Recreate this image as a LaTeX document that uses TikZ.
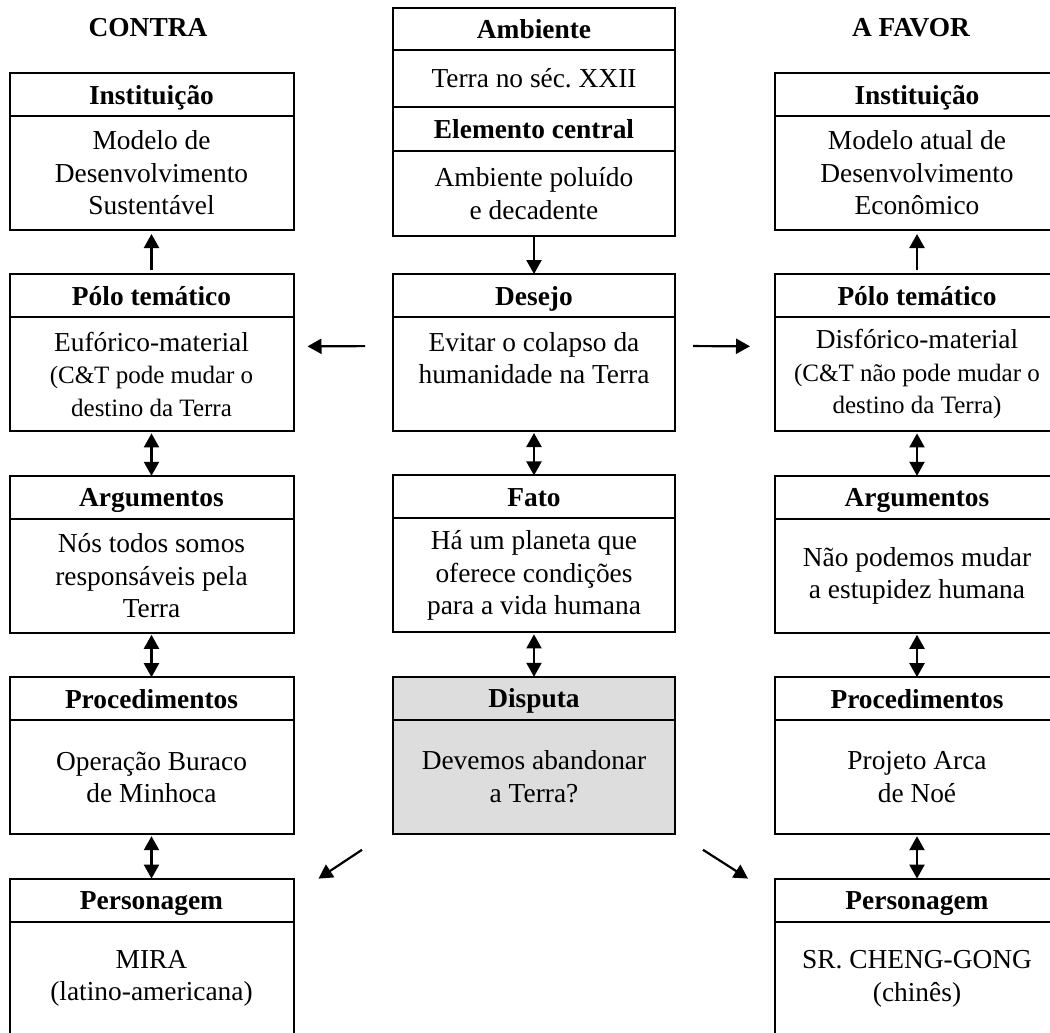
\documentclass[tikz,border=0pt]{standalone}
\usepackage{fontspec}
\setmainfont{Liberation Serif}
\frenchspacing
\usetikzlibrary{arrows.meta,positioning}
\definecolor{DisputaGray}{HTML}{DDDDDD}
\newcommand{\notasize}{\fontsize{12.5}{16.25}\selectfont}

\begin{document}
\begin{tikzpicture}[node distance=22.2pt, every node/.style={font=\fontsize{13.7}{16.25}\selectfont},
    head/.style={draw, line width=1pt, outer sep=0pt, inner sep=2pt, text height=11.5pt, text depth=2pt, minimum width=142pt, minimum height=21.5pt, font=\fontsize{13.7}{16.25}\selectfont\bfseries},
    body/.style={draw, line width=1pt, outer sep=0pt, minimum width=142pt, minimum height=57pt, align=center},
    arr/.style={-{Triangle[length=7pt,width=7.5pt]}, line width=1.1pt},
    twoway/.style={{Triangle[length=7pt,width=7.5pt]}-{Triangle[length=7pt,width=7.5pt]}, line width=1.1pt, shorten <=1pt}]
    \useasboundingbox (0,0) rectangle (525pt,-516.5pt);
    \clip (0,0) rectangle (525pt,-516.5pt);

    \node[font=\fontsize{13.7}{16.25}\selectfont\bfseries] (contra) at (74pt,-14pt) {CONTRA};
    \node[font=\fontsize{13.7}{16.25}\selectfont\bfseries] (afavor) at (455.5pt,-14pt) {A FAVOR};

    % contra
    \node[head, anchor=north] (linst) at (75.75pt,-36.5pt) {Instituição};
    \node[body, below=0pt of linst] (linstb) {Modelo de\\Desenvolvimento\\Sustentável};
    \node[head, below=of linstb] (lpolo) {Pólo temático};
    \node[body, below=0pt of lpolo] (lpolob) {Eufórico-material\\{\notasize (C\&T pode mudar o}\\{\notasize destino da Terra}};
    \node[head, below=of lpolob] (larg) {Argumentos};
    \node[body, below=0pt of larg] (largb) {Nós todos somos\\responsáveis pela\\Terra};
    \node[head, below=of largb] (lproc) {Procedimentos};
    \node[body, below=0pt of lproc] (lprocb) {Operação Buraco\\de Minhoca};
    \node[head, below=of lprocb] (lpers) {Personagem};
    \node[body, below=0pt of lpers] (lpersb) {MIRA\\(latino-americana)};

    % centro
    \node[head, minimum width=141pt, minimum height=21pt, anchor=north] (amb) at (267pt,-4pt) {Ambiente};
    \node[body, minimum width=141pt, minimum height=28.5pt, below=0pt of amb] (ambb) {Terra no séc. XXII};
    \node[head, minimum width=141pt, minimum height=22pt, below=0pt of ambb] (elem) {Elemento central};
    \node[body, minimum width=141pt, minimum height=42.5pt, below=0pt of elem] (elemb) {Ambiente poluído\\e decadente};
    \node[head, minimum width=141pt, below=19pt of elemb] (desejo) {Desejo};
    \node[body, minimum width=141pt, below=0pt of desejo] (desejob) {Evitar o colapso da\\humanidade na Terra\\\mbox{}};
    \node[head, minimum width=141pt, below=of desejob] (fato) {Fato};
    \node[body, minimum width=141pt, below=0pt of fato] (fatob) {Há um planeta que\\oferece condições\\para a vida humana};
    \node[head, minimum width=141pt, fill=DisputaGray, below=of fatob] (disputa) {Disputa};
    \node[body, minimum width=141pt, fill=DisputaGray, below=0pt of disputa] (disputab) {Devemos abandonar\\a Terra?};

    % a favor
    \node[head, anchor=north] (rinst) at (458.5pt,-36.5pt) {Instituição};
    \node[body, below=0pt of rinst] (rinstb) {Modelo atual de\\Desenvolvimento\\Econômico};
    \node[head, below=of rinstb] (rpolo) {Pólo temático};
    \node[body, below=0pt of rpolo] (rpolob) {Disfórico-material\\{\notasize (C\&T não pode mudar o}\\{\notasize destino da Terra)}};
    \node[head, below=of rpolob] (rarg) {Argumentos};
    \node[body, below=0pt of rarg] (rargb) {Não podemos mudar\\a estupidez humana};
    \node[head, below=of rargb] (rproc) {Procedimentos};
    \node[body, below=0pt of rproc] (rprocb) {Projeto Arca\\de Noé};
    \node[head, below=of rprocb] (rpers) {Personagem};
    \node[body, below=0pt of rpers] (rpersb) {SR. CHENG-GONG\\(chinês)};

    \draw[arr, shorten <=2pt, shorten >=2pt] (lpolo.north) -- (linstb.south);
    \draw[arr, shorten <=2pt, shorten >=2pt] (rpolo.north) -- (rinstb.south);
    \draw[arr] (elemb.south) -- (desejo.north);
    \draw[arr, shorten <=14pt, shorten >=7pt] ([yshift=-14.5pt]desejob.north west) -- ([yshift=-14.5pt]lpolob.north east);
    \draw[arr, shorten <=9pt, shorten >=12.5pt] ([yshift=-14.5pt]desejob.north east) -- ([yshift=-14.5pt]rpolob.north west);
    \draw[twoway] (lpolob.south) -- (larg.north);
    \draw[twoway] (desejob.south) -- (fato.north);
    \draw[twoway] (rpolob.south) -- (rarg.north);
    \draw[twoway] (largb.south) -- (lproc.north);
    \draw[twoway] (fatob.south) -- (disputa.north);
    \draw[twoway] (rargb.south) -- (rproc.north);
    \draw[twoway] (lprocb.south) -- (lpers.north);
    \draw[twoway] (rprocb.south) -- (rpers.north);
    \draw[arr] ([xshift=-15.5pt,yshift=-8pt]disputab.south west) -- ([xshift=12.5pt]lpers.north east);
    \draw[arr] ([xshift=14pt,yshift=-8pt]disputab.south east) -- ([xshift=-13.5pt]rpers.north west);
\end{tikzpicture}
\end{document}
